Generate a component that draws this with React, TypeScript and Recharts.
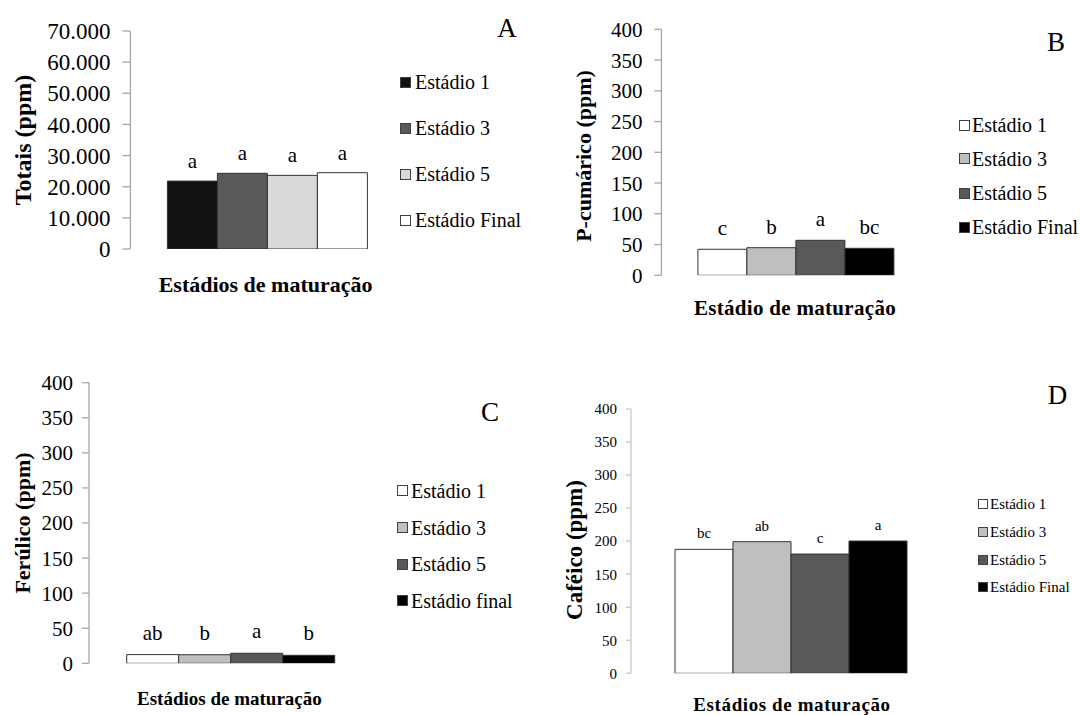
import React from "react";
import { BarChart, Bar, XAxis, YAxis, LabelList } from "recharts";

// ---------- data ----------
const stagesA = ["Estádio 1", "Estádio 3", "Estádio 5", "Estádio Final"];
const stagesB = ["Estádio 1", "Estádio 3", "Estádio 5", "Estádio Final"];
const stagesC = ["Estádio 1", "Estádio 3", "Estádio 5", "Estádio final"];
const stagesD = ["Estádio 1", "Estádio 3", "Estádio 5", "Estádio Final"];

const totaisValues = [21800, 24300, 23650, 24500];
const totaisLetters = ["a", "a", "a", "a"];

const cumaricoValues = [42.3, 44.9, 56.9, 43.9];
const cumaricoLetters = ["c", "b", "a", "bc"];

const ferulicoValues = [12.4, 12.2, 14.3, 11.4];
const ferulicoLetters = ["ab", "b", "a", "b"];

const cafeicoValues = [187.6, 199.2, 180.5, 200.2];
const cafeicoLetters = ["bc", "ab", "c", "a"];

const ticksTotais = [0, 10000, 20000, 30000, 40000, 50000, 60000, 70000];
const ticks400 = [0, 50, 100, 150, 200, 250, 300, 350, 400];

const colorsA = ["#111111", "#595959", "#d9d9d9", "#ffffff"];
const colorsBCD = ["#ffffff", "#bfbfbf", "#595959", "#000000"];

const FONT = '"Liberation Serif", "Times New Roman", serif';

const fmtDot = (v: number) => String(v).replace(/\B(?=(\d{3})+(?!\d))/g, ".");

function buildRow(cat: string, values: number[], letters: string[]) {
  const row: Record<string, any> = { cat };
  values.forEach((v, i) => {
    row["s" + i] = v;
    row["l" + i] = letters[i];
  });
  return [row];
}

type PanelProps = {
  left: number;
  top: number;
  width: number;
  height: number;
  margin: { top: number; right: number; bottom: number; left: number };
  data: any[];
  names: string[];
  colors: string[];
  max: number;
  ticks: number[];
  fmt?: (v: number) => string;
  tickFont: number;
  tickSize: number;
  tickMargin: number;
  gap: number;
  axisColor: string;
  letterFont: number;
  letterOffset: number;
};

function Panel(p: PanelProps) {
  return (
    <div style={{ position: "absolute", left: p.left, top: p.top }}>
      <BarChart
        width={p.width}
        height={p.height}
        data={p.data}
        margin={p.margin}
        barGap={0}
        barCategoryGap={p.gap}
      >
        <XAxis
          dataKey="cat"
          tick={false}
          tickLine={false}
          height={0}
          axisLine={{ stroke: p.axisColor, strokeWidth: 1.3 }}
        />
        <YAxis
          width={80}
          domain={[0, p.max]}
          ticks={p.ticks}
          interval={0}
          tickFormatter={p.fmt}
          tickSize={p.tickSize}
          tickMargin={p.tickMargin}
          axisLine={{ stroke: p.axisColor, strokeWidth: 1.3 }}
          tickLine={{ stroke: p.axisColor, strokeWidth: 1.3 }}
          tick={{ fill: "#000", fontSize: p.tickFont, fontFamily: FONT }}
          allowDataOverflow
        />
        {p.names.map((n, i) => (
          <Bar
            key={i}
            dataKey={"s" + i}
            name={n}
            fill={p.colors[i]}
            stroke="#333"
            strokeWidth={1}
            isAnimationActive={false}
          >
            <LabelList
              dataKey={"l" + i}
              position="top"
              offset={p.letterOffset}
              fill="#000"
              fontSize={p.letterFont}
              fontFamily={FONT}
            />
          </Bar>
        ))}
      </BarChart>
    </div>
  );
}

function CText({
  x,
  y,
  size,
  bold,
  rotate,
  children,
  spacing,
}: {
  x: number;
  y: number;
  size: number;
  bold?: boolean;
  rotate?: boolean;
  spacing?: number;
  children: React.ReactNode;
}) {
  return (
    <div
      style={{
        position: "absolute",
        left: x,
        top: y,
        transform: `translate(-50%, -50%)${rotate ? " rotate(-90deg)" : ""}`,
        fontFamily: FONT,
        fontSize: size,
        fontWeight: bold ? "bold" : "normal",
        letterSpacing: spacing ?? 0,
        whiteSpace: "nowrap",
        lineHeight: 1,
        color: "#000",
      }}
    >
      {children}
    </div>
  );
}

function LegendBox({
  x,
  textX,
  rows,
  names,
  colors,
  size,
  font,
}: {
  x: number;
  textX: number;
  rows: number[];
  names: string[];
  colors: string[];
  size: number;
  font: number;
}) {
  return (
    <>
      {names.map((n, i) => (
        <React.Fragment key={i}>
          <div
            style={{
              position: "absolute",
              left: x,
              top: rows[i] - size / 2,
              width: size,
              height: size,
              boxSizing: "border-box",
              background: colors[i],
              border: "1px solid #404040",
            }}
          />
          <div
            style={{
              position: "absolute",
              left: textX,
              top: rows[i],
              transform: "translateY(-50%)",
              fontFamily: FONT,
              fontSize: font,
              lineHeight: 1,
              whiteSpace: "nowrap",
              color: "#000",
            }}
          >
            {n}
          </div>
        </React.Fragment>
      ))}
    </>
  );
}

export default function App() {
  return (
    <div
      style={{
        position: "absolute",
        left: 0,
        top: 0,
        width: 1080,
        height: 715,
        background: "#fff",
        overflow: "hidden",
      }}
    >
      {/* Panel A */}
      <Panel
        left={0}
        top={0}
        width={540}
        height={300}
        margin={{ top: 31, right: 136.3, bottom: 51, left: 50.4 }}
        data={buildRow("Estádios de maturação", totaisValues, totaisLetters)}
        names={stagesA}
        colors={colorsA}
        max={70000}
        ticks={ticksTotais}
        fmt={fmtDot}
        tickFont={23}
        tickSize={8}
        tickMargin={12}
        gap={37}
        axisColor="#a6a6a6"
        letterFont={21}
        letterOffset={13}
      />
      <CText x={22.5} y={140} size={24} bold rotate>
        Totais (ppm)
      </CText>
      <CText x={265.6} y={285} size={22} bold>
        Estádios de maturação
      </CText>
      <CText x={507} y={28} size={27}>
        A
      </CText>
      <LegendBox
        x={400}
        textX={415}
        rows={[82, 128, 174, 220]}
        names={stagesA}
        colors={colorsA}
        size={11}
        font={20}
      />

      {/* Panel B */}
      <Panel
        left={540}
        top={0}
        width={540}
        height={330}
        margin={{ top: 29.3, right: 150.1, bottom: 54.7, left: 41.4 }}
        data={buildRow("Estádio de maturação", cumaricoValues, cumaricoLetters)}
        names={stagesB}
        colors={colorsBCD}
        max={400}
        ticks={ticks400}
        tickFont={21}
        tickSize={7}
        tickMargin={12}
        gap={36.5}
        axisColor="#a6a6a6"
        letterFont={21}
        letterOffset={14}
      />
      <CText x={584} y={156} size={22} bold rotate>
        P-cumárico (ppm)
      </CText>
      <CText x={795} y={308} size={21} bold spacing={0.3}>
        Estádio de maturação
      </CText>
      <CText x={1056} y={42} size={27}>
        B
      </CText>
      <LegendBox
        x={959}
        textX={972}
        rows={[125, 158.5, 193, 227]}
        names={stagesB}
        colors={colorsBCD}
        size={11}
        font={20}
      />

      {/* Panel C */}
      <Panel
        left={0}
        top={360}
        width={540}
        height={355}
        margin={{ top: 22.7, right: 169.1, bottom: 51.7, left: 9 }}
        data={buildRow("Estádios de maturação", ferulicoValues, ferulicoLetters)}
        names={stagesC}
        colors={colorsBCD}
        max={400}
        ticks={ticks400}
        tickFont={21}
        tickSize={7}
        tickMargin={9}
        gap={37.7}
        axisColor="#a6a6a6"
        letterFont={21}
        letterOffset={15}
      />
      <CText x={22.5} y={523} size={22} bold rotate>
        Ferúlico (ppm)
      </CText>
      <CText x={229.4} y={698} size={19} bold>
        Estádios de maturação
      </CText>
      <CText x={490} y={412} size={27}>
        C
      </CText>
      <LegendBox
        x={397}
        textX={411}
        rows={[490.7, 527.7, 564, 600.7]}
        names={stagesC}
        colors={colorsBCD}
        size={11}
        font={20}
      />

      {/* Panel D */}
      <Panel
        left={540}
        top={380}
        width={540}
        height={335}
        margin={{ top: 29, right: 129, bottom: 41.7, left: 11 }}
        data={buildRow("Estádios de maturação", cafeicoValues, cafeicoLetters)}
        names={stagesD}
        colors={colorsBCD}
        max={400}
        ticks={ticks400}
        tickFont={15}
        tickSize={5}
        tickMargin={9}
        gap={44}
        axisColor="#c8c8c8"
        letterFont={15}
        letterOffset={11}
      />
      <CText x={574} y={550} size={23} bold rotate>
        Caféico (ppm)
      </CText>
      <CText x={792} y={704} size={19} bold spacing={0.6}>
        Estádios de maturação
      </CText>
      <CText x={1057.5} y={395} size={27}>
        D
      </CText>
      <LegendBox
        x={978}
        textX={990}
        rows={[504, 531.7, 560, 587.3]}
        names={stagesD}
        colors={colorsBCD}
        size={10}
        font={15}
      />
    </div>
  );
}
